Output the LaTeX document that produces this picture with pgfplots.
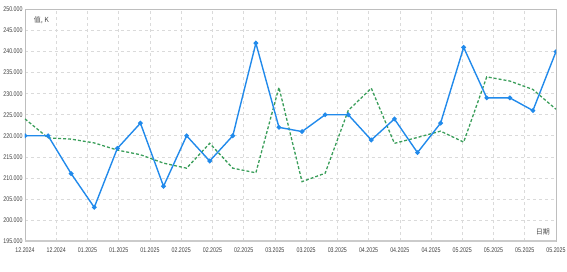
\documentclass[border=0pt]{standalone}
\usepackage{pgfplots}
\pgfplotsset{compat=1.18}
\usepackage{fontspec}
\setmainfont{Liberation Sans}[FakeStretch=0.78]
\newfontfamily\cjk{Noto Sans CJK SC}
\definecolor{bl}{RGB}{33,138,235}
\definecolor{gr}{RGB}{58,158,90}
\definecolor{gridc}{RGB}{218,218,218}
\definecolor{axc}{RGB}{190,190,190}
\begin{document}
\begin{tikzpicture}
\begin{axis}[
  at={(0,0)}, anchor=south west,
  scale only axis, width=531bp, height=231.5bp,
  xmin=0, xmax=23, ymin=195, ymax=250,
  xtick={0,1.352941,2.705882,4.058824,5.411765,6.764706,8.117647,9.470588,10.823529,12.176471,13.529412,14.882353,16.235294,17.588235,18.941176,20.294118,21.647059,23},
  xticklabels={12.2024,12.2024,01.2025,01.2025,01.2025,02.2025,02.2025,02.2025,03.2025,03.2025,03.2025,04.2025,04.2025,04.2025,05.2025,05.2025,05.2025,05.2025},
  ytick={195,200,...,250},
  yticklabel={\pgfmathprintnumber[fixed,fixed zerofill,precision=3,1000 sep={}]{\tick}},
  /pgf/number format/assume math mode=true,
  ticklabel style={font=\fontsize{6.8}{7}\selectfont, text=black!75},
  xticklabel style={yshift=-3.5bp},
  yticklabel style={xshift=1bp},
  major tick length=0pt,
  grid=major,
  major grid style={gridc, dashed, line width=0.6pt},
  axis line style={axc, line width=0.8pt},
  clip mode=individual,
  clip marker paths=true,
]
\addplot[gr, line width=1.3pt, dash pattern=on 3pt off 2pt] coordinates {
(0,224) (1,219.5) (2,219.2) (3,218.3) (4,216.6) (5,215.5) (6,213.5) (7,212.3)
(8,218.2) (9,212.3) (10,211.2) (11,231.5) (12,209.1) (13,211.1) (14,226) (15,231.3)
(16,218.2) (17,219.6) (18,221.1) (19,218.5) (20,234) (21,233) (22,231) (23,226.3)};
\addplot[bl, line width=1.4pt, mark=*, mark size=1.6pt, mark options={solid}] coordinates {
(0,220) (1,220) (2,211) (3,203) (4,217) (5,223) (6,208) (7,220)
(8,214) (9,220) (10,242) (11,222) (12,221) (13,225) (14,225) (15,219)
(16,224) (17,216) (18,223) (19,241) (20,229) (21,229) (22,226) (23,240)};
\draw[axc!80, line width=2.2pt] (rel axis cs:0,0) -- (rel axis cs:1,0);
\node[anchor=west, font=\cjk\fontsize{7}{8}\selectfont, text=black!70] at (rel axis cs:0.01,0.955) {值, K};
\node[anchor=east, font=\cjk\fontsize{7}{8}\selectfont, text=black!70] at (rel axis cs:0.995,0.04) {日期};
\end{axis}
\pgfresetboundingbox
\path (-25bp,-31bp) rectangle (542bp,241bp);
\end{tikzpicture}
\end{document}
